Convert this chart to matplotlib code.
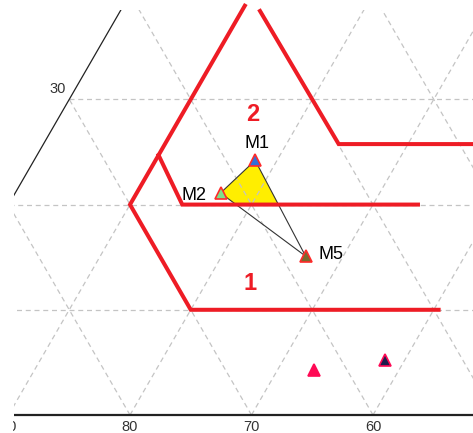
import numpy as np
import matplotlib.pyplot as plt
from matplotlib.patches import Rectangle, Polygon
from matplotlib.transforms import Bbox, TransformedBbox

plt.rcParams['font.family'] = ['Liberation Sans', 'DejaVu Sans']

# ternary values, B = top component, C = right component (A = 100 - B - C)
field1_b = [38.9, 20.0, 10.0, 10.0]
field1_c = [10.0, 10.0, 20.0, 40.4]
field2_low_b = [24.7, 20.0, 20.0]
field2_low_c = [10.0, 14.3, 33.7]
field2_top_b = [38.4, 25.75, 25.75]
field2_top_c = [11.5, 24.3, 60.0]

sample_names = ['M1', 'M2', 'M5']
sample_b = [24.2, 21.1, 15.1]
sample_c = [18.2, 16.9, 26.9]
sample_colors = ['#2f6fd8', '#7fe08a', '#7a6a2e']

other_b = [4.3, 5.2]
other_c = [33.0, 38.4]
other_colors = ['#ff0a55', '#1c1c4c']

base_ticks = [90, 80, 70, 60]
left_ticks = [30]

H = np.sqrt(3) / 2


def txy(b, c):
    b = np.asarray(b, dtype=float)
    c = np.asarray(c, dtype=float)
    return c + b / 2, b * H


fig = plt.figure(figsize=(4.73, 4.33), dpi=100)
ax = fig.add_axes([0, 0, 1, 1])
ax.set_xlim(9.30, 48.23)
ax.set_ylim(-1.481, 34.16)
ax.axis('off')

clip = Rectangle((10.45, -0.5), 60, 33.83, transform=ax.transData, visible=False)
ax.add_patch(clip)
text_box = TransformedBbox(Bbox([[10.37, -5], [60, 50]]), ax.transData)

# dashed grid
grid_kw = dict(color='#c4c4c4', lw=0.9, ls=(0, (4, 3)), zorder=2)
for v in range(10, 100, 10):
    x, y = txy([v, v], [0, 100 - v])
    ln, = ax.plot(x, y, **grid_kw)
    ln.set_clip_path(clip)
    x, y = txy([0, 100 - v], [v, v])
    ln, = ax.plot(x, y, **grid_kw)
    ln.set_clip_path(clip)
    x, y = txy([0, 100 - v], [100 - v, 0])
    ln, = ax.plot(x, y, **grid_kw)
    ln.set_clip_path(clip)

# triangle edges: left edge thin, base thicker
x, y = txy([0, 100], [0, 0])
ln, = ax.plot(x, y, color='#222222', lw=0.9, zorder=3)
ln.set_clip_path(clip)
x, y = txy([0, 0], [0, 100])
ln, = ax.plot(x, y, color='#222222', lw=1.6, zorder=3)
ln.set_clip_path(clip)

labels = []
for t in base_ticks:
    labels.append(ax.text(100 - t, -0.99, str(t), ha='center', va='center',
                          fontsize=10.5, color='#333333'))
for t in left_ticks:
    x, y = txy(t, 0)
    labels.append(ax.text(x - 0.95, y + 0.85, str(t), ha='center', va='center',
                          fontsize=10.5, color='#333333'))
for tx in labels:
    tx.set_clip_path(None)
    tx.set_clip_box(text_box)
    tx.set_clip_on(True)

# sample triangle, yellow part above B = 20
sx, sy = txy(sample_b, sample_c)
fill = Polygon(np.column_stack([sx, sy]), closed=True, facecolor='#ffee00', edgecolor='none', zorder=1)
ax.add_patch(fill)
fill.set_clip_path(Rectangle((0, 20 * H), 100, 50, transform=ax.transData))
ax.add_patch(Polygon(np.column_stack([sx, sy]), closed=True, facecolor='none',
                     edgecolor='#333333', lw=0.8, zorder=4))

# field boundaries
for bb, cc in [(field1_b, field1_c), (field2_low_b, field2_low_c), (field2_top_b, field2_top_c)]:
    x, y = txy(bb, cc)
    ax.plot(x, y, color='#ee1c25', lw=2.9, solid_joinstyle='miter', zorder=5)

x, y = txy(28.6, 15.8)
ax.text(x, y, '2', color='#ee1c25', fontsize=17, fontweight='bold', ha='center', va='center')
x, y = txy(12.5, 23.6)
ax.text(x, y, '1', color='#ee1c25', fontsize=17, fontweight='bold', ha='center', va='center')

# samples
offsets = [(1, 12.5), (-19, -2), (18, 1)]
for name, xx, yy, col, off in zip(sample_names, sx, sy, sample_colors, offsets):
    ax.plot(xx, yy, marker='^', ms=8, mfc=col, mec='#ff2a2a', mew=1.2, zorder=6)
    ax.annotate(name, (xx, yy), xytext=off, textcoords='offset points',
                ha='center', va='center', fontsize=13, zorder=7)

ox, oy = txy(other_b, other_c)
for xx, yy, col in zip(ox, oy, other_colors):
    ax.plot(xx, yy, marker='^', ms=8, mfc=col, mec='#ff0a55', mew=1.2, zorder=6)

fig.savefig('out.png', dpi=100)
